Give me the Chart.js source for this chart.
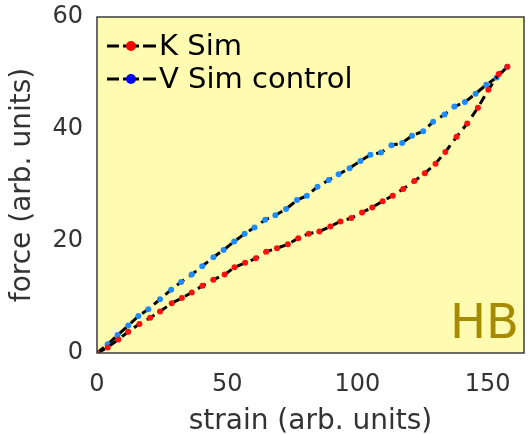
<!DOCTYPE html>
<html>
<head>
<meta charset="utf-8">
<script src="https://cdn.jsdelivr.net/npm/chart.js@4/dist/chart.umd.min.js"></script>
<style>
  html, body { margin: 0; padding: 0; background: #fff; }
  #wrap { width: 528px; height: 434px; }
</style>
</head>
<body>
<div id="wrap"><canvas id="hbChart"></canvas></div>
<script>
// data
const kStrain = [0, 4.1, 8.2, 12.0, 16.3, 20.4, 24.2, 28.7, 32.6, 36.4, 40.5, 44.7, 49.0, 52.8, 56.9, 61.0, 65.0, 69.1, 73.3, 77.3, 81.3, 85.4, 89.6, 93.5, 97.7, 101.8, 105.7, 109.7, 113.6, 117.6, 121.9, 125.9, 130.0, 133.8, 138.1, 142.2, 146.3, 150.3, 154.3, 157.6];
const kForce  = [0, 1.0, 2.4, 3.8, 5.2, 6.3, 7.4, 8.9, 9.8, 10.8, 12.0, 13.1, 14.0, 15.3, 16.1, 16.9, 18.1, 18.7, 19.4, 20.5, 21.3, 21.7, 22.6, 23.5, 24.1, 25.1, 26.0, 27.1, 28.1, 29.3, 30.7, 32.1, 33.8, 35.9, 38.6, 41.0, 43.8, 47.0, 49.8, 51.1];
const vStrain = [0, 4.1, 7.9, 12.0, 15.9, 19.7, 24.2, 28.5, 32.3, 36.4, 40.4, 44.7, 48.6, 52.7, 56.7, 60.5, 64.6, 68.5, 72.6, 76.8, 80.6, 84.7, 89.0, 92.8, 97.0, 101.2, 105.0, 109.1, 113.1, 117.2, 121.0, 125.3, 129.1, 133.5, 137.3, 141.3, 145.4, 149.5, 153.5, 157.6];
const vForce  = [0, 1.55, 3.2, 4.9, 6.6, 7.8, 9.6, 11.3, 12.7, 14.0, 15.5, 17.1, 18.4, 19.9, 21.3, 22.4, 23.8, 24.6, 25.7, 27.3, 28.1, 29.7, 30.9, 31.9, 33.0, 34.3, 35.4, 35.8, 37.1, 37.5, 38.8, 39.6, 41.3, 42.6, 44.0, 44.8, 46.3, 47.9, 49.2, 51.1];
const xTicks = [0, 50, 100, 150];
const yTicks = [0, 20, 40, 60];
const seriesNames = ['K Sim', 'V Sim control'];
const legendDots = ['#ff0000', '#0000ff'];

const toPoints = (xs, ys) => xs.map((x, i) => ({ x: x, y: ys[i] }));

const FONT = "'DejaVu Sans', Verdana, sans-serif";

// yellow plot area + frame, legend and HB tag
const plotBg = {
  id: 'plotBg',
  beforeDraw(chart) {
    const a = chart.chartArea, c = chart.ctx;
    c.save();
    c.fillStyle = '#fffcb2';
    c.fillRect(a.left, a.top, a.right - a.left, a.bottom - a.top);
    c.restore();
  },
  afterDraw(chart) {
    const a = chart.chartArea, c = chart.ctx;
    c.save();
    c.strokeStyle = '#3a3a3a';
    c.lineWidth = 1.5;
    c.strokeRect(a.left, a.top, a.right - a.left, a.bottom - a.top);

    // HB label
    c.fillStyle = '#a68a00';
    c.font = '48px ' + FONT;
    c.textAlign = 'right';
    c.textBaseline = 'alphabetic';
    c.fillText('HB', a.right - 5, a.bottom - 15);

    // legend  -•-  name
    c.font = '29px ' + FONT;
    c.textAlign = 'left';
    c.textBaseline = 'middle';
    seriesNames.forEach((name, i) => {
      const y = a.top + 29 + i * 33;
      const x0 = a.left + 10;
      c.strokeStyle = '#000';
      c.lineWidth = 3;
      c.beginPath();
      c.moveTo(x0, y); c.lineTo(x0 + 12, y);
      c.moveTo(x0 + 36, y); c.lineTo(x0 + 49, y);
      c.moveTo(x0 + 16, y); c.lineTo(x0 + 32, y);
      c.stroke();
      c.fillStyle = legendDots[i];
      c.beginPath();
      c.arc(x0 + 24, y, 5, 0, Math.PI * 2);
      c.fill();
      c.fillStyle = '#000';
      c.fillText(name, x0 + 52, y + 1);
    });
    c.restore();
  }
};

new Chart(document.getElementById('hbChart'), {
  type: 'scatter',
  data: {
    datasets: [{
      label: seriesNames[0],
      data: toPoints(kStrain, kForce),
      showLine: true,
      borderColor: '#000',
      borderWidth: 3,
      borderDash: [9, 6],
      pointRadius: 3,
      pointBorderWidth: 0,
      pointBackgroundColor: '#ff1010',
      tension: 0
    }, {
      label: seriesNames[1],
      data: toPoints(vStrain, vForce),
      showLine: true,
      borderColor: '#000',
      borderWidth: 3,
      borderDash: [9, 6],
      pointRadius: 3,
      pointBorderWidth: 0,
      pointBackgroundColor: '#1e8cff',
      tension: 0
    }]
  },
  options: {
    responsive: true,
    maintainAspectRatio: false,
    animation: false,
    layout: { padding: { left: 0, right: 4, top: 17, bottom: 0 } },
    plugins: {
      legend: { display: false },
      tooltip: { enabled: false }
    },
    scales: {
      x: {
        type: 'linear',
        min: 0,
        max: 164,
        afterBuildTicks: s => { s.ticks = xTicks.map(v => ({ value: v })); },
        afterFit: s => { s.height = 81; s.paddingLeft = 0; s.paddingRight = 0; },
        grid: { display: false, drawTicks: false },
        border: { display: false },
        ticks: { color: '#333', font: { family: FONT, size: 24 }, padding: 17, maxRotation: 0 },
        title: { display: true, text: 'strain (arb. units)', color: '#333', font: { family: FONT, size: 28 }, padding: { top: 0, bottom: -5 } }
      },
      y: {
        type: 'linear',
        min: 0,
        max: 60,
        afterBuildTicks: s => { s.ticks = yTicks.map(v => ({ value: v })); },
        afterFit: s => { s.width = 97; s.paddingTop = 0; s.paddingBottom = 0; },
        grid: { display: false, drawTicks: false },
        border: { display: false },
        ticks: { color: '#333', font: { family: FONT, size: 24 }, padding: 14 },
        title: { display: true, text: 'force (arb. units)', color: '#333', font: { family: FONT, size: 28 }, padding: { top: 6, bottom: 0 } }
      }
    }
  },
  plugins: [plotBg]
});
</script>
</body>
</html>
